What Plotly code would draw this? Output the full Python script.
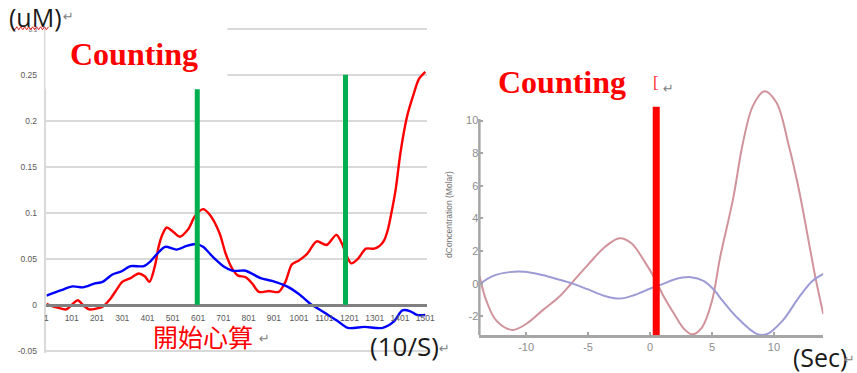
import plotly.graph_objects as go

W, H = 857, 373

# ---- left panel: concentration vs sample index (10 samples / s) ----
left_cat_red = [1, 20, 45, 79, 105, 125, 148, 170, 200, 223, 255, 280, 301, 334, 366, 390, 409,
                431, 445, 458, 477, 500, 529, 562, 588, 621, 647, 686, 710, 735, 758, 790, 816,
                842, 882, 921, 947, 973, 999, 1032, 1071, 1110, 1149, 1170, 1195, 1208, 1234,
                1266, 1299, 1320, 1338, 1352, 1364, 1384, 1403, 1429, 1456, 1475, 1501]
left_val_red = [0.001, -0.001, -0.003, -0.005, 0.001, 0.005, -0.001, -0.005, -0.004, -0.002,
                0.007, 0.017, 0.025, 0.029, 0.034, 0.031, 0.025, 0.043, 0.063, 0.075, 0.084,
                0.080, 0.074, 0.082, 0.096, 0.104, 0.098, 0.078, 0.056, 0.040, 0.032, 0.030,
                0.023, 0.014, 0.015, 0.014, 0.025, 0.044, 0.048, 0.055, 0.069, 0.065, 0.076,
                0.067, 0.050, 0.045, 0.050, 0.061, 0.061, 0.064, 0.070, 0.081, 0.096, 0.126,
                0.166, 0.205, 0.230, 0.245, 0.253]

left_cat_blue = [1, 60, 105, 145, 190, 223, 262, 295, 334, 386, 412, 438, 471, 516, 556, 595,
                 621, 660, 706, 738, 764, 790, 849, 894, 953, 999, 1051, 1064, 1116, 1156, 1194,
                 1260, 1332, 1377, 1410, 1442, 1468, 1501]
left_val_blue = [0.010, 0.016, 0.020, 0.019, 0.023, 0.025, 0.033, 0.036, 0.042, 0.042, 0.047,
                 0.055, 0.063, 0.060, 0.064, 0.066, 0.063, 0.052, 0.041, 0.037, 0.037, 0.037,
                 0.029, 0.026, 0.020, 0.012, 0.000, -0.002, -0.011, -0.018, -0.025, -0.024,
                 -0.025, -0.018, -0.006, -0.007, -0.011, -0.011]

left_xticks = list(range(1, 1502, 100))
left_yticks = [-0.05, 0, 0.05, 0.1, 0.15, 0.2, 0.25, 0.3]
left_ytext = ["-0.05", "0", "0.05", "0.1", "0.15", "0.2", "0.25",
              "<span style='font-size:6px'>0.3</span>"]
counting_marks = [598, 1185]          # sample index of the green markers
counting_mark_top = 0.25

# ---- right panel: dConcentration vs time (s) ----
right_t_red = [-13.77, -13.2, -12.4, -11.1, -10.0, -8.7, -7.4, -6.3, -5.0, -3.6, -2.45, -1.5,
               -0.45, 0.35, 1.15, 1.95, 2.75, 3.4, 4.2, 5.0, 5.65, 6.7, 7.5, 8.3, 9.25, 10.2,
               11.2, 12.0, 12.95, 13.35, 13.98]
right_v_red = [0.5, -1.05, -2.26, -2.83, -2.47, -1.65, -0.85, 0.06, 1.17, 2.28, 2.79, 2.48,
               1.37, 0.36, -0.85, -1.86, -2.77, -3.1, -2.67, -1.05, 1.6, 5.2, 8.65, 10.9, 11.8,
               11.1, 8.45, 5.8, 1.98, 0.36, -1.86]

right_t_blue = [-13.77, -12.7, -11.35, -10.15, -8.7, -7.37, -6.3, -5.0, -3.65, -2.45, -1.25,
                0.08, 1.15, 1.95, 3.3, 4.35, 5.25, 5.65, 7.0, 8.6, 9.4, 10.7, 12.0, 13.1, 13.98]
right_v_blue = [-0.04, 0.47, 0.71, 0.73, 0.53, 0.26, 0.02, -0.35, -0.75, -0.91, -0.69, -0.28,
                0.02, 0.26, 0.4, 0.16, -0.45, -0.85, -2.06, -3.07, -3.1, -2.26, -0.85, 0.16, 0.6]

right_xticks = [-10, -5, 0, 5, 10]
right_ytext_vals = [-2, 0, 2, 4, 6, 8, 10]
right_xtext = ["-10", "-5", "0", "5", "10"]
right_ytext = ["-2", "0", "2", "4", "6", "8", "10"]
counting_start = 0.5       # seconds
counting_bar_top = 10.85
right_yaxis_top = 10.1


def px(x):
    return x / W


def py(y):
    return 1 - y / H


fig = go.Figure()

fig.add_trace(go.Scatter(x=left_cat_red, y=left_val_red, mode="lines",
                         line=dict(color="#ff0000", width=2.4, shape="spline", smoothing=0.8),
                         xaxis="x", yaxis="y", hoverinfo="skip"))
fig.add_trace(go.Scatter(x=left_cat_blue, y=left_val_blue, mode="lines",
                         line=dict(color="#0000ff", width=2.4, shape="spline", smoothing=0.8),
                         xaxis="x", yaxis="y", hoverinfo="skip"))
fig.add_trace(go.Scatter(x=right_t_red, y=right_v_red, mode="lines",
                         line=dict(color="#d0939b", width=2, shape="spline", smoothing=1),
                         xaxis="x2", yaxis="y2", hoverinfo="skip"))
fig.add_trace(go.Scatter(x=right_t_blue, y=right_v_blue, mode="lines",
                         line=dict(color="#9d9bd6", width=2, shape="spline", smoothing=1),
                         xaxis="x2", yaxis="y2", hoverinfo="skip"))

shapes = []
for m in counting_marks:
    shapes.append(dict(type="line", xref="x", yref="y", x0=m, x1=m, y0=0, y1=counting_mark_top,
                       line=dict(color="#00b050", width=5), layer="above"))
# white label box over the top-left of the left panel
shapes.append(dict(type="rect", xref="paper", yref="paper", x0=px(44), x1=px(228),
                   y0=py(90), y1=py(24), fillcolor="white", line=dict(width=0), layer="above"))
# right panel y axis line (stops at the top tick)
shapes.append(dict(type="line", xref="paper", yref="y2", x0=px(483), x1=px(483),
                   y0=-3.16, y1=right_yaxis_top, line=dict(color="#a6a6a6", width=2.5),
                   layer="above"))
# counting start bar on the right panel
shapes.append(dict(type="line", xref="x2", yref="y2", x0=counting_start, x1=counting_start,
                   y0=-3.16, y1=counting_bar_top, line=dict(color="#ff0000", width=7),
                   layer="above"))
# red wavy underline below "uM"
wave = "M {:.5f} {:.5f}".format(px(11), py(28))
for i, xx in enumerate(range(13, 48, 2)):
    yy = 30 if i % 2 == 0 else 27
    wave += " L {:.5f} {:.5f}".format(px(xx), py(yy))
shapes.append(dict(type="path", xref="paper", yref="paper", path=wave,
                   line=dict(color="#e02020", width=1), layer="above"))


def note(text, x, y, size, color, family="Open Sans", **kw):
    return dict(text=text, x=px(x), y=py(y), xref="paper", yref="paper", showarrow=False,
                xanchor=kw.pop("xanchor", "center"), yanchor="middle",
                font=dict(size=size, color=color, family=family), **kw)


serif_bold = "Liberation Serif"
annotations = [
    note("<b>Counting</b>", 134, 54, 32, "#ff0000", serif_bold),
    note("<b>Counting</b>", 567, 83, 32, "#ff0000", serif_bold),
    note("(uM)", 34, 17, 25, "#1a1a1a"),
    note("↵", 67, 17, 13, "#808080", "DejaVu Sans"),
    note("(10/S)", 407, 349, 26, "#1a1a1a"),
    note("↵", 448, 351, 13, "#808080", "DejaVu Sans"),
    note("開始心算", 203, 339, 25, "#ff0000", "Noto Sans CJK TC"),
    note("↵", 266, 341, 13, "#808080", "DejaVu Sans"),
    note("(Sec)", 828, 360, 25, "#1a1a1a"),
    note("↵", 858, 362, 13, "#808080", "DejaVu Sans"),
    note("[", 662, 83, 17, "#ff3030", "Liberation Serif"),
    note("↵", 674, 89, 13, "#808080", "DejaVu Sans"),
    note("dConcentration (Molar)", 453, 216, 8.5, "#707070", "Liberation Sans", textangle=-90),
]

# left y range chosen so that 0 sits at pixel 307 and 0.05 spans ~46 px
ly_min, ly_max = -0.052, 0.302
ly_bottom_px = 307.3 + 0.052 * 928
ly_top_px = 307.3 - 0.302 * 928
ry_min, ry_max = -3.16, 12.2

fig.update_layout(
    width=W, height=H, margin=dict(l=0, r=0, t=0, b=0),
    paper_bgcolor="white", plot_bgcolor="rgba(0,0,0,0)", showlegend=False,
    shapes=shapes, annotations=annotations,
    xaxis=dict(domain=[px(45), px(430.1)], range=[1, 1508], anchor="free",
               position=py(307.3), showline=True, linecolor="#808080", linewidth=3,
               tickvals=left_xticks, ticks="", showgrid=False, zeroline=False,
               tickfont=dict(size=8.5, color="#595959", family="Liberation Sans"),
               ticklabelstandoff=4),
    yaxis=dict(domain=[py(ly_bottom_px), py(ly_top_px)], range=[ly_min, ly_max], anchor="x",
               tickvals=left_yticks, ticktext=left_ytext, ticks="", showgrid=True,
               gridcolor="#d9d9d9", gridwidth=1.5, zeroline=False, showline=True,
               linecolor="#d9d9d9", linewidth=1.5,
               tickfont=dict(size=8.5, color="#595959", family="Liberation Sans"),
               ticklabelstandoff=6),
    xaxis2=dict(domain=[px(483), px(831)], range=[-13.77, 13.98], anchor="y2",
                showline=True, linecolor="#a6a6a6", linewidth=2.5, ticks="inside", ticklen=4,
                tickcolor="#a6a6a6", tickwidth=1.5, tickvals=right_xticks, ticktext=right_xtext,
                showgrid=False, zeroline=False,
                tickfont=dict(size=11, color="#8c8c8c", family="Liberation Sans")),
    yaxis2=dict(domain=[py(338), py(338 - (ry_max - ry_min) * 16.45)], range=[ry_min, ry_max],
                anchor="x2", showline=False, ticks="inside", ticklen=4, tickcolor="#a6a6a6",
                tickwidth=1.5, tickvals=right_ytext_vals, ticktext=right_ytext, showgrid=False,
                zeroline=False, tickfont=dict(size=11, color="#8c8c8c", family="Liberation Sans")),
)

fig.write_html("out.html")
